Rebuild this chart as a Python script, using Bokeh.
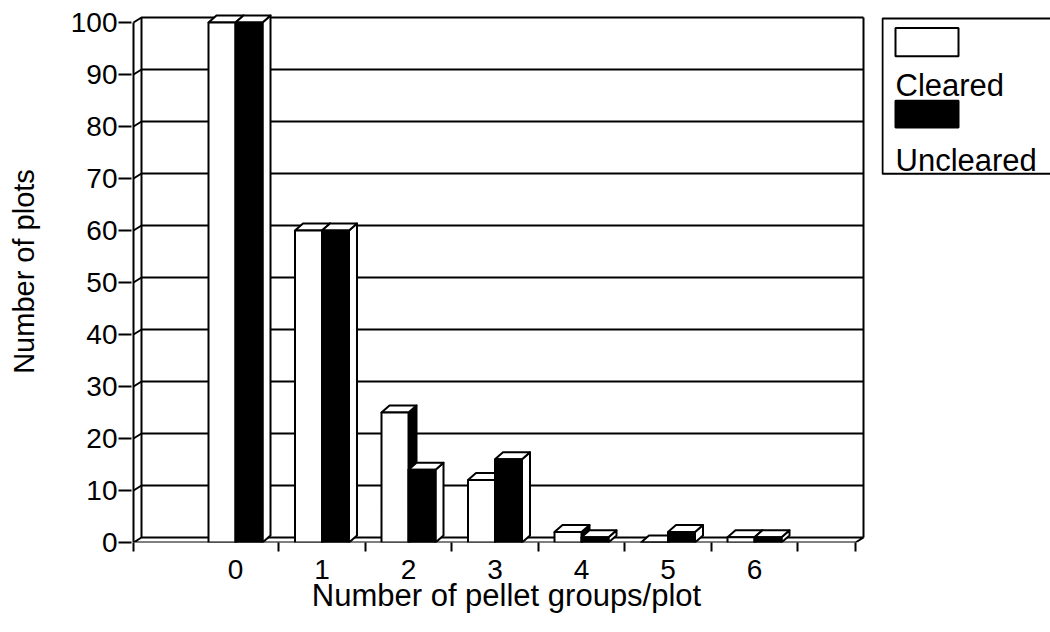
from bokeh.plotting import figure
from bokeh.models import Range1d, FixedTicker
from bokeh.layouts import row
from bokeh.embed import file_html
from bokeh.resources import INLINE
from bokeh.core.properties import value

# ---------------- data ----------------
categories = ["0", "1", "2", "3", "4", "5", "6"]
series_names = ["Cleared", "Uncleared"]
cleared = [100, 60, 25, 12, 2, 0, 1]
uncleared = [100, 60, 14, 16, 1, 2, 1]
y_ticks = [0, 10, 20, 30, 40, 50, 60, 70, 80, 90, 100]

# ---------------- geometry ----------------
FONT = "Liberation Sans"
PX_X = 86.5      # pixels per category
PX_Y = 5.2       # pixels per unit
TOTAL_W = 1050
MAIN_W = 881
H = 632
B_LEFT = 131
B_BOTTOM = 90
frame_w = MAIN_W - B_LEFT
frame_h = H - B_BOTTOM

x_start = -104.0 / PX_X
x0 = x_start + 2.0 / PX_X           # front-left edge (front axis)
x_right = x0 + 722.0 / PX_X         # front-right edge of floor
x_end = x_start + frame_w / PX_X
y_end = frame_h / PX_Y

wdx, wdy = 8.0 / PX_X, 5.0 / PX_Y   # wall depth
bdx, bdy = 8.0 / PX_X, 7.0 / PX_Y   # bar depth
bw = 27.0 / PX_X                    # bar width

p = figure(width=MAIN_W, height=H,
           x_range=Range1d(x_start, x_end), y_range=Range1d(0, y_end),
           output_backend="svg", toolbar_location=None,
           min_border_left=B_LEFT, min_border_right=0,
           min_border_top=0, min_border_bottom=B_BOTTOM)
p.xgrid.visible = False
p.ygrid.visible = False
p.outline_line_color = None
p.background_fill_color = "white"
p.border_fill_color = "white"

# y axis
ya = p.yaxis[0]
ya.ticker = FixedTicker(ticks=y_ticks)
ya.axis_line_color = None
ya.major_tick_out = 13
ya.major_tick_in = 0
ya.major_tick_line_width = 2
ya.major_tick_line_color = "black"
ya.minor_tick_out = 0
ya.minor_tick_in = 0
ya.major_label_standoff = 1
ya.major_label_text_font = FONT
ya.major_label_text_font_size = "28px"
ya.major_label_text_color = "black"
ya.axis_label = "Number of plots"
ya.axis_label_text_font = FONT
ya.axis_label_text_font_size = "29px"
ya.axis_label_text_font_style = "normal"
ya.axis_label_text_color = "black"
ya.axis_label_standoff = 28

# x axis
xa = p.xaxis[0]
xa.ticker = FixedTicker(ticks=list(range(len(categories))),
                        minor_ticks=[x0] + [i + 0.5 for i in range(len(categories))] + [x_right])
xa.major_label_overrides = {i: c for i, c in enumerate(categories)}
xa.axis_line_color = None
xa.major_tick_out = 0
xa.major_tick_in = 0
xa.minor_tick_out = 9
xa.minor_tick_in = 0
xa.minor_tick_line_width = 2
xa.minor_tick_line_color = "black"
xa.major_label_standoff = 8
xa.major_label_text_font = FONT
xa.major_label_text_font_size = "28px"
xa.major_label_text_color = "black"
xa.axis_label = "Number of pellet groups/plot"
xa.axis_label_text_font = FONT
xa.axis_label_text_font_size = "31px"
xa.axis_label_text_font_style = "normal"
xa.axis_label_text_color = "black"
xa.axis_label_standoff = -4

top = y_ticks[-1]

# floor
p.patch([x0, x_right, x_right + wdx, x0 + wdx], [0, 0, wdy, wdy],
        fill_color="white", line_color="black", line_width=2)

# back-wall gridlines (with slanted join to front axis)
gx, gy = [], []
for v in y_ticks[1:]:
    gx.append([x0, x0 + wdx, x_right + wdx])
    gy.append([v, v + wdy, v + wdy])
p.multi_line(gx, gy, line_color="black", line_width=2)

# left wall & right edge of back wall
p.multi_line([[x0, x0], [x0 + wdx, x0 + wdx], [x_right + wdx, x_right + wdx]],
             [[0, top], [wdy, top + wdy], [wdy, top + wdy]],
             line_color="black", line_width=2)


def bar_faces(vals, offset):
    fx, fy, sx, sy, tx, ty = [], [], [], [], [], []
    for i, v in enumerate(vals):
        l = i + offset
        r = l + bw
        fx.append([l, r, r, l]); fy.append([0, 0, v, v])
        sx.append([r, r + bdx, r + bdx, r]); sy.append([0, bdy, v + bdy, v])
        tx.append([l, r, r + bdx, l + bdx]); ty.append([v, v, v + bdy, v + bdy])
    return fx, fy, sx, sy, tx, ty


for vals, off, front_c, side_c in [(cleared, -bw, "white", "black"),
                                   (uncleared, 0.0, "black", "white")]:
    fx, fy, sx, sy, tx, ty = bar_faces(vals, off)
    p.patches(sx, sy, fill_color=side_c, line_color="black", line_width=2, line_join="round")
    p.patches(tx, ty, fill_color="white", line_color="black", line_width=2, line_join="round")
    p.patches(fx, fy, fill_color=front_c, line_color="black", line_width=2)

# ---------------- legend panel ----------------
LEG_W = TOTAL_W - MAIN_W
lg = figure(width=LEG_W, height=H, x_range=Range1d(0, LEG_W), y_range=Range1d(H, 0),
            output_backend="svg", toolbar_location=None,
            x_axis_location=None, y_axis_location=None,
            min_border=0)
lg.xgrid.visible = False
lg.ygrid.visible = False
lg.outline_line_color = None
lg.border_fill_color = "white"

lg.quad(left=[1], right=[LEG_W + 20], top=[21], bottom=[202],
        fill_color=None, line_color="black", line_width=2)
lg.quad(left=[14, 14], right=[77, 77], top=[32, 117], bottom=[65, 148],
        fill_color=["white", "black"], line_color="black", line_width=2)
lg.text(x=[14, 14], y=[99, 186], text=series_names,
        text_font=value(FONT), text_font_size="31px", text_color="black",
        text_baseline="alphabetic", text_align="left")

layout = row(p, lg, spacing=0)
open("out.html", "w").write(file_html(layout, INLINE))
